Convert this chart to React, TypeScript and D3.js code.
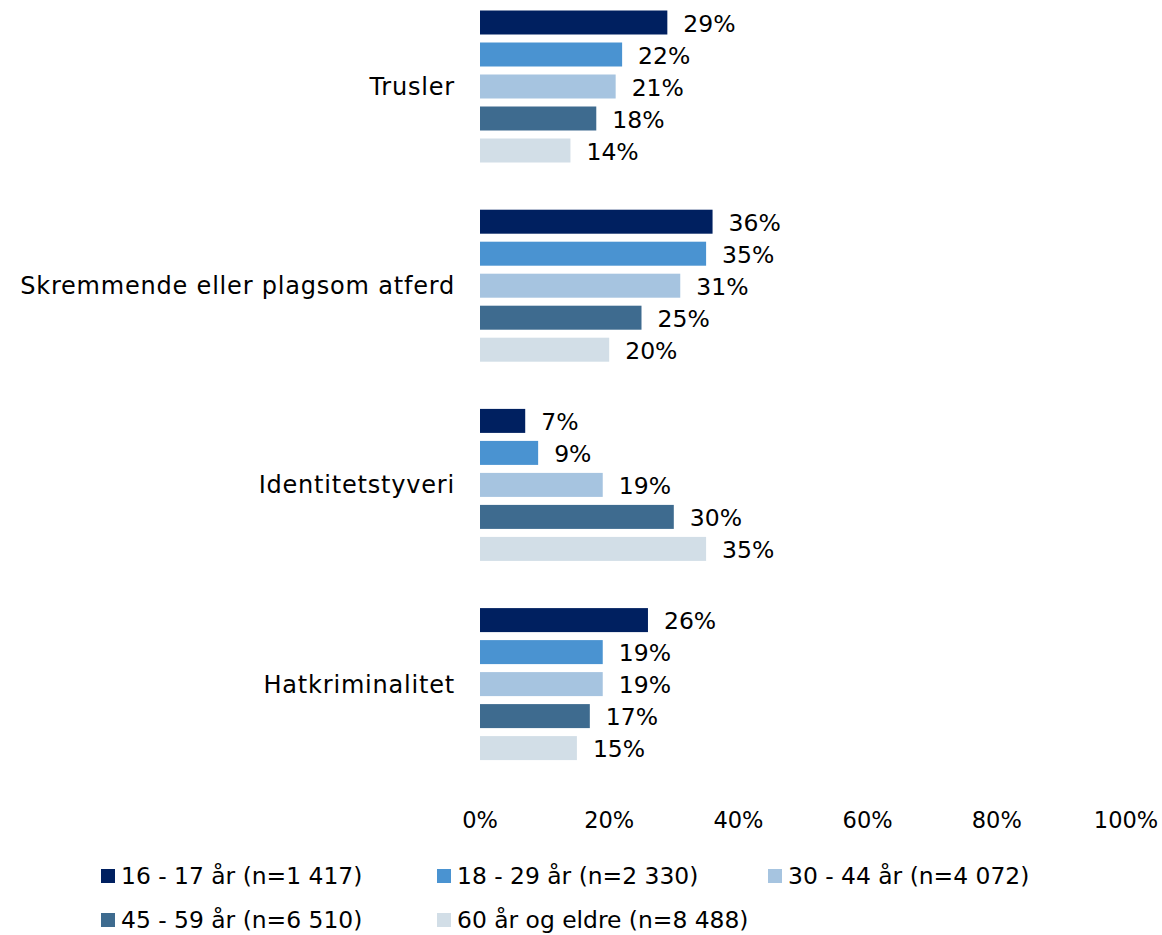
import React from "react";
import * as d3 from "d3";

const categories = ["Trusler", "Skremmende eller plagsom atferd", "Identitetstyveri", "Hatkriminalitet"];
const seriesNames = [
  "16 - 17 år (n=1 417)",
  "18 - 29 år (n=2 330)",
  "30 - 44 år (n=4 072)",
  "45 - 59 år (n=6 510)",
  "60 år og eldre (n=8 488)",
];
const seriesColors = ["#002060", "#4A93D1", "#A6C4E0", "#3E6B8F", "#D2DEE7"];
const values16_17 = [29, 36, 7, 26];
const values18_29 = [22, 35, 9, 19];
const values30_44 = [21, 31, 19, 19];
const values45_59 = [18, 25, 30, 17];
const values60 = [14, 20, 35, 15];
const seriesValues = [values16_17, values18_29, values30_44, values45_59, values60];
const tickValues = [0, 20, 40, 60, 80, 100];

const W = 1162;
const H = 935;
const FONT = "'DejaVu Sans', sans-serif";

export default function App() {
  const x = d3.scaleLinear().domain([0, 100]).range([480, 1126]);
  const yCat = d3.scaleBand<string>().domain(categories).range([-13.1, 783.7]).padding(0);
  const ySer = d3
    .scaleBand<string>()
    .domain(seriesNames)
    .range([0, yCat.bandwidth()])
    .paddingInner(0.25)
    .paddingOuter(0.7375);

  const legendPos = [
    { x: 101, y: 876 },
    { x: 437, y: 876 },
    { x: 768, y: 876 },
    { x: 101, y: 920 },
    { x: 437, y: 920 },
  ];

  return (
    <div style={{ position: "absolute", left: 0, top: 0 }}>
      <svg width={W} height={H} style={{ display: "block", background: "#fff" }} fontFamily={FONT}>
        {categories.map((cat, ci) => {
          const y0 = yCat(cat)!;
          return (
            <g key={cat}>
              {seriesNames.map((s, si) => {
                const v = seriesValues[si][ci];
                const yb = y0 + ySer(s)!;
                return (
                  <g key={s}>
                    <rect
                      x={x(0)}
                      y={yb}
                      width={x(v) - x(0)}
                      height={ySer.bandwidth()}
                      fill={seriesColors[si]}
                    />
                    <text
                      x={x(v) + 16}
                      y={yb + ySer.bandwidth() / 2 + 1}
                      dy="0.35em"
                      fontSize={23.5}
                      fill="#000"
                    >
                      {v}%
                    </text>
                  </g>
                );
              })}
              <text
                x={455}
                y={y0 + yCat.bandwidth() / 2}
                dy="0.35em"
                textAnchor="end"
                fontSize={24}
                letterSpacing={0.8}
                fill="#000"
              >
                {cat}
              </text>
            </g>
          );
        })}
        {tickValues.map((t) => (
          <text key={t} x={x(t)} y={820} dy="0.35em" textAnchor="middle" fontSize={22.5} fill="#000">
            {t}%
          </text>
        ))}
        {seriesNames.map((s, si) => (
          <g key={s}>
            <rect x={legendPos[si].x} y={legendPos[si].y - 7} width={14} height={14} fill={seriesColors[si]} />
            <text x={legendPos[si].x + 20} y={legendPos[si].y} dy="0.35em" fontSize={23.4} fill="#000">
              {s}
            </text>
          </g>
        ))}
      </svg>
    </div>
  );
}
